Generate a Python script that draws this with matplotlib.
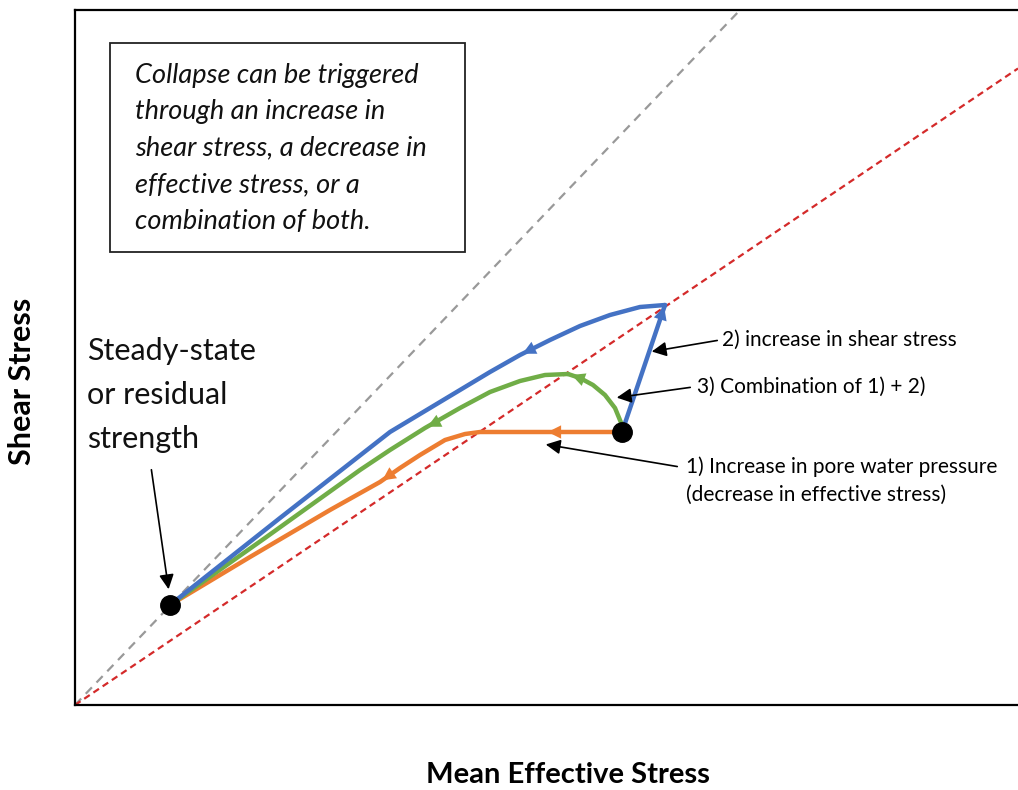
import matplotlib.pyplot as plt
from matplotlib.patches import Rectangle

plt.rcParams['font.family'] = ['Lato', 'DejaVu Sans']

# data coords: stress units, origin at bottom-left corner
x_max, y_max = 943, 695
gray_slope = 1.045   # upper dashed line
red_slope = 0.675    # critical state line

steady = (95, 100)
start = (547, 273)

# stress paths (mean effective stress, shear stress)
orange_x = [547, 470, 405, 390, 370, 345, 325, 305, 255, 175, 95]
orange_y = [273, 273, 273, 271, 265, 250, 237, 223, 195, 148, 100]
green_x = [547, 547, 540, 530, 518, 505, 493]
green_y = [273, 280, 297, 310, 320, 327, 331]
green2_x = [493, 470, 445, 415, 385, 350, 315, 285, 190, 95]
green2_y = [331, 330, 324, 313, 297, 277, 255, 235, 167, 100]
blue_x = [547, 590]
blue_y = [273, 400]
blue2_x = [590, 565, 535, 505, 475, 445, 415, 385, 355, 315, 205, 95]
blue2_y = [400, 398, 390, 379, 365, 350, 333, 315, 297, 273, 187, 100]

# arrowheads along paths: (tail, head)
orange_arrows = [((500, 273), (470, 273)), ((325, 237), (305, 223))]
green_arrows = [((510, 325), (494, 331)), ((370, 287), (350, 277))]
blue_arrows = [((585, 385), (590, 401)), ((465, 360), (445, 350))]

fig = plt.figure(figsize=(10.18, 7.90), dpi=100)
ax = fig.add_axes([75 / 1018, 85 / 790, 943 / 1018, 695 / 790])
ax.set_xlim(0, x_max)
ax.set_ylim(0, y_max)
ax.set_xticks([])
ax.set_yticks([])
for s in ['left', 'bottom', 'top']:
    ax.spines[s].set_linewidth(1.6)
ax.spines['right'].set_visible(False)

ax.plot([0, x_max], [0, gray_slope * x_max], ls=(0, (4, 3)), color='#999999', lw=1.6)
ax.plot([0, x_max], [0, red_slope * x_max], ls=(0, (3, 2)), color='#d42a2a', lw=1.6)

c_orange, c_green, c_blue = '#ed7d31', '#70ad47', '#4472c4'
for xs, ys, c in [(orange_x, orange_y, c_orange), (green_x, green_y, c_green),
                  (green2_x, green2_y, c_green), (blue_x, blue_y, c_blue),
                  (blue2_x, blue2_y, c_blue)]:
    ax.plot(xs, ys, color=c, lw=3.2, solid_capstyle='round', solid_joinstyle='round')

for arrows, c in [(orange_arrows, c_orange), (green_arrows, c_green), (blue_arrows, c_blue)]:
    for tail, head in arrows:
        ax.annotate('', xy=head, xytext=tail,
                    arrowprops=dict(arrowstyle='-|>', color=c, lw=0, mutation_scale=24))

ax.plot(*steady, 'o', color='black', ms=14, zorder=5)
ax.plot(*start, 'o', color='black', ms=14, zorder=5)

# text box
ax.add_patch(Rectangle((35, 453), 355, 209, fill=False, lw=1.3, ec='#222222'))
box_lines = ['Collapse can be triggered', 'through an increase in',
             'shear stress, a decrease in', 'effective stress, or a',
             'combination of both.']
for i, t in enumerate(box_lines):
    ax.text(60, 630 - i * 36.5, t, fontsize=19.5, style='italic', va='center', color='#111111')

for i, t in enumerate(['Steady-state', 'or residual', 'strength']):
    ax.text(12, 354 - i * 44, t, fontsize=22, va='center', color='#111111')
ax.annotate('', xy=(94, 113), xytext=(76, 238),
            arrowprops=dict(arrowstyle='-|>', color='black', lw=1.2, mutation_scale=22))

fs = 15
ax.text(647, 365, '2) increase in shear stress', fontsize=fs, va='center')
ax.annotate('', xy=(574, 353), xytext=(645, 365),
            arrowprops=dict(arrowstyle='-|>', color='black', lw=1.2, mutation_scale=22))
ax.text(622, 318, '3) Combination of 1) + 2)', fontsize=fs, va='center')
ax.annotate('', xy=(539, 307), xytext=(618, 318),
            arrowprops=dict(arrowstyle='-|>', color='black', lw=1.2, mutation_scale=22))
ax.text(611, 238, '1) Increase in pore water pressure', fontsize=fs, va='center')
ax.text(611, 210, '(decrease in effective stress)', fontsize=fs, va='center')
ax.annotate('', xy=(468, 261), xytext=(605, 238),
            arrowprops=dict(arrowstyle='-|>', color='black', lw=1.2, mutation_scale=22))

fig.text(568 / 1018, 1 - 775 / 790, 'Mean Effective Stress', fontsize=21, fontweight='bold',
         ha='center', va='center')
fig.text(22 / 1018, 1 - 381 / 790, 'Shear Stress', fontsize=22, fontweight='bold',
         ha='center', va='center', rotation=90)

fig.savefig('out.png', dpi=100)
